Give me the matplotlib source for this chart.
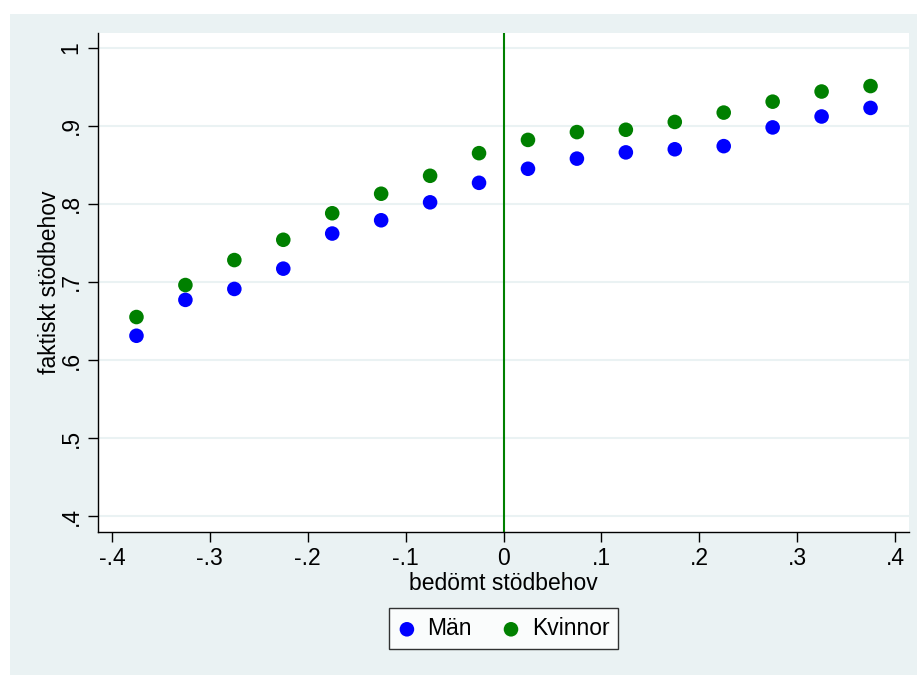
import matplotlib.pyplot as plt
from matplotlib.patches import Rectangle

# bin midpoints of "bedömt stödbehov"
x_vals = [-0.375, -0.325, -0.275, -0.225, -0.175, -0.125, -0.075, -0.025,
          0.025, 0.075, 0.125, 0.175, 0.225, 0.275, 0.325, 0.375]

man = [0.631, 0.677, 0.691, 0.717, 0.762, 0.779, 0.802, 0.827,
       0.845, 0.858, 0.866, 0.870, 0.874, 0.898, 0.912, 0.923]
kvinnor = [0.655, 0.696, 0.728, 0.754, 0.788, 0.813, 0.836, 0.865,
           0.882, 0.892, 0.895, 0.905, 0.917, 0.931, 0.944, 0.951]

x_ticks = [-0.4, -0.3, -0.2, -0.1, 0, 0.1, 0.2, 0.3, 0.4]
x_ticklabels = ['-.4', '-.3', '-.2', '-.1', '0', '.1', '.2', '.3', '.4']
y_ticks = [0.4, 0.5, 0.6, 0.7, 0.8, 0.9, 1.0]
y_ticklabels = ['.4', '.5', '.6', '.7', '.8', '.9', '1']

plt.rcParams['font.family'] = ['Liberation Sans', 'DejaVu Sans']

bg = '#EAF2F3'
fs = 16.5
fig = plt.figure(figsize=(9.17, 6.75), dpi=100)
fig.patch.set_facecolor('white')
# stata-style light background panel
fig.patches.append(Rectangle((10 / 917, 0), 907 / 917, 661 / 675,
                             transform=fig.transFigure, facecolor=bg,
                             edgecolor='none', zorder=-1))

ax = fig.add_axes([98 / 917, 143 / 675, 811 / 917, 499 / 675])
ax.set_zorder(1)
ax.set_facecolor('white')

ax.set_xlim(-0.4143, 0.4143)
ax.set_ylim(0.3795, 1.019)

for yt in y_ticks:
    ax.axhline(yt, color=bg, lw=1.5, zorder=1)
ax.axvline(0, color='#008000', lw=1.5, zorder=2)

ax.scatter(x_vals, man, s=110, color='#0000FF', edgecolors='none',
           label='Män', zorder=3)
ax.scatter(x_vals, kvinnor, s=110, color='#008000', edgecolors='none',
           label='Kvinnor', zorder=3)

ax.set_xticks(x_ticks)
ax.set_xticklabels(x_ticklabels)
ax.set_yticks(y_ticks)
ax.set_yticklabels(y_ticklabels)
plt.setp(ax.get_yticklabels(), rotation=90, va='center')

ax.tick_params(axis='both', length=7, width=1, labelsize=fs, pad=4,
               colors='black')

for side in ['top', 'right']:
    ax.spines[side].set_visible(False)
for side in ['left', 'bottom']:
    ax.spines[side].set_linewidth(1)
    ax.spines[side].set_color('black')

ax.set_xlabel('bedömt stödbehov', fontsize=fs, labelpad=1)
ax.set_ylabel('faktiskt stödbehov', fontsize=fs, labelpad=-1)

leg = ax.legend(loc='center', bbox_to_anchor=(0.5, -0.194), ncol=2,
                fontsize=fs, frameon=True, fancybox=False,
                handlelength=0.8, handletextpad=0.5, columnspacing=1.3,
                borderpad=0.4, borderaxespad=0)
leg.get_frame().set_edgecolor('black')
leg.get_frame().set_linewidth(1)

fig.savefig('out.png', dpi=100)
